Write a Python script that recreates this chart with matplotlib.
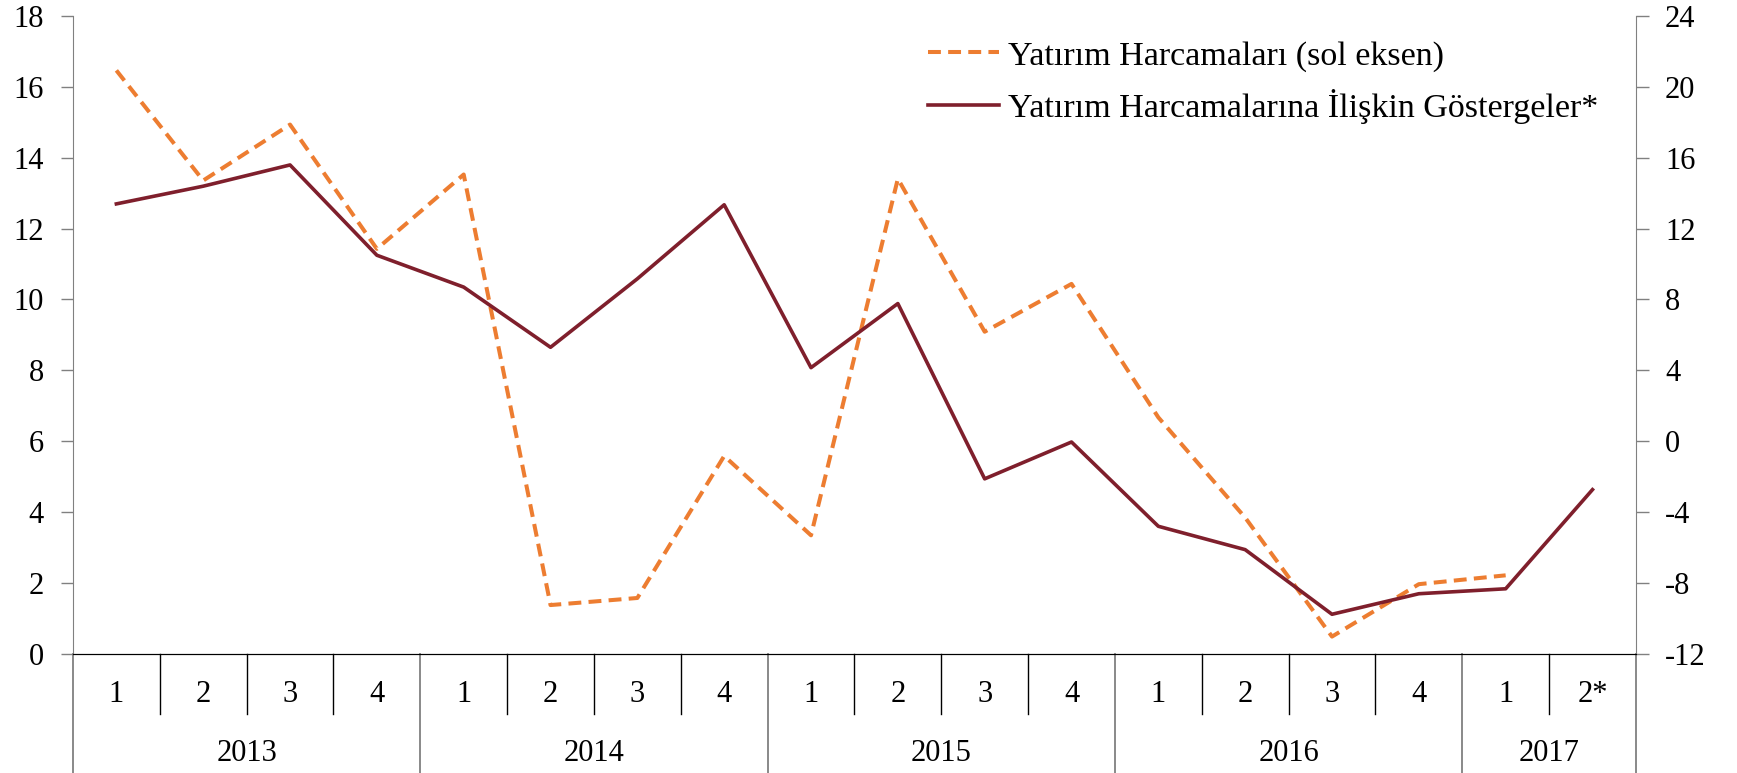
import matplotlib.pyplot as plt
import numpy as np

# Data
quarters = ['1', '2', '3', '4', '1', '2', '3', '4', '1', '2', '3', '4',
            '1', '2', '3', '4', '1', '2*']
years = ['2013', '2014', '2015', '2016', '2017']
year_lengths = [4, 4, 4, 4, 2]

# Yatırım Harcamaları (left axis), no value for the last quarter
yatirim = [16.47, 13.36, 14.94, 11.43, 13.53, 1.37, 1.57, 5.58, 3.34,
           13.41, 9.09, 10.44, 6.67, 3.84, 0.48, 1.96, 2.21, np.nan]
# Yatırım Harcamalarına İlişkin Göstergeler (right axis)
gostergeler = [13.4, 14.4, 15.6, 10.5, 8.7, 5.3, 9.17, 13.35, 4.15,
               7.77, -2.13, -0.05, -4.81, -6.13, -9.78, -8.62, -8.34, -2.74]

label1 = 'Yatırım Harcamaları (sol eksen)'
label2 = 'Yatırım Harcamalarına İlişkin Göstergeler*'

plt.rcParams['font.family'] = ['Liberation Serif', 'DejaVu Serif']
plt.rcParams['axes.unicode_minus'] = False
fs = 22
orange = '#ED7D31'
darkred = '#7F1F2C'
gray = '#808080'

fig = plt.figure(figsize=(17.37, 7.73), dpi=100)
ax = fig.add_axes([0.042, 0.1545, 0.8998, 0.8245])
ax2 = ax.twinx()

x = np.arange(len(quarters))
l1, = ax.plot(x, yatirim, color=orange, lw=2.9, linestyle=(0, (3.2, 1.8)), label=label1)
l2, = ax2.plot(x, gostergeler, color=darkred, lw=2.6, label=label2)

ax.set_xlim(-0.5, len(quarters) - 0.5)
ax.set_ylim(0, 18)
ax.set_yticks(np.arange(0, 19, 2))
ax2.set_ylim(-12, 24)
ax2.set_yticks(np.arange(-12, 25, 4))

for a in (ax, ax2):
    a.spines['top'].set_visible(False)
    a.spines['left'].set_color(gray)
    a.spines['right'].set_color(gray)
    a.spines['bottom'].set_color('black')
    a.tick_params(axis='y', direction='out', length=9, width=1, color=gray,
                  labelsize=fs, pad=12)
    a.tick_params(axis='x', bottom=False, labelbottom=False)
ax2.spines['left'].set_visible(False)
ax.spines['right'].set_visible(False)

# category axis drawn by hand: quarter row and year row
trans = ax.get_xaxis_transform()
row1 = -0.0943
row2 = -0.1887
for i, q in enumerate(quarters):
    ax.text(i, -0.0645, q, transform=trans, ha='center', va='center', fontsize=fs)

bounds = np.cumsum([0] + year_lengths) - 0.5
for b in np.arange(-0.5, len(quarters), 1.0):
    if b in bounds:
        continue
    ax.plot([b, b], [0, row1], transform=trans, color='black', lw=1, clip_on=False)
for b in bounds:
    ax.plot([b, b], [0, row2], transform=trans, color=gray, lw=1.3, clip_on=False)
for j, yr in enumerate(years):
    mid = (bounds[j] + bounds[j + 1]) / 2
    ax.text(mid, -0.157, yr, transform=trans, ha='center', va='center', fontsize=fs)

ax2.legend([l1, l2], [label1, label2], loc='upper left', bbox_to_anchor=(0.547, 0.962),
           frameon=False, fontsize=24.5, handlelength=2.09, handletextpad=0.26,
           labelspacing=0.5, borderaxespad=0, borderpad=0)

fig.savefig('out.png', dpi=100)
